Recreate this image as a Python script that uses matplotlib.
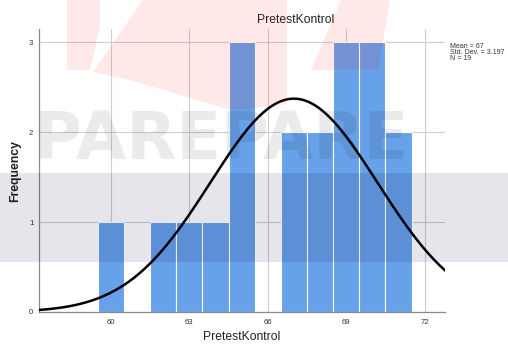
import numpy as np
import matplotlib
matplotlib.use("Agg")
import matplotlib.pyplot as plt
from matplotlib.patches import Polygon, Rectangle

plt.rcParams['font.family'] = ['Liberation Sans', 'DejaVu Sans']

# histogram data
scores = [60, 62, 63, 64, 65, 67, 68, 69, 70, 71]
freq = [1, 1, 1, 1, 3, 2, 2, 3, 3, 2]
xticks = [60, 63, 66, 69, 72]
yticks = [0, 1, 2, 3]
mean_val = 67
sd_val = 3.197
n_val = 19

W, H = 508, 345
fig = plt.figure(figsize=(W / 100, H / 100), dpi=100)
ax = fig.add_axes([39 / W, 1 - 312 / H, (445 - 39) / W, (312 - 29) / H])

ax.bar(scores, freq, width=1.0, color='#66a1e9', edgecolor='white',
       linewidth=0.8, zorder=2)

xs = np.linspace(57.25, 72.78, 300)
ys = n_val * 1.0 / (sd_val * np.sqrt(2 * np.pi)) * np.exp(-0.5 * ((xs - mean_val) / sd_val) ** 2)
ax.plot(xs, ys, color='black', lw=1.8, zorder=3)

ax.set_xlim(57.25, 72.78)
ax.set_ylim(0, 3.145)
ax.set_xticks(xticks)
ax.set_yticks(yticks)
ax.tick_params(length=0, labelsize=5.6, colors='#333333')
ax.tick_params(axis='x', pad=5)
ax.tick_params(axis='y', pad=4)
ax.grid(True, color='#cfcfcf', lw=0.8, zorder=0)
ax.set_axisbelow(True)
for s in ['top', 'right']:
    ax.spines[s].set_visible(False)
for s in ['left', 'bottom']:
    ax.spines[s].set_color('#8a8a8a')
    ax.spines[s].set_linewidth(0.9)

ax.set_xlabel('PretestKontrol', fontsize=8.7, color='#222222', labelpad=4)
ax.set_ylabel('Frequency', fontsize=8.8, color='#222222', fontweight='bold', labelpad=6)
fig.text(296 / W, 1 - 20 / H, 'PretestKontrol', fontsize=8.7, ha='center', va='center',
         color='#222222')

stats = ['Mean = %d' % mean_val, 'Std. Dev. = %.3f' % sd_val, 'N = %d' % n_val]
for i, t in enumerate(stats):
    fig.text(450 / W, 1 - (46.5 + 5.8 * i) / H, t, fontsize=5.0, ha='left', va='center',
             color='#333333')

# watermark overlay in pixel coordinates
ov = fig.add_axes([0, 0, 1, 1], zorder=5)
ov.set_xlim(0, W)
ov.set_ylim(H, 0)
ov.axis('off')
ov.patch.set_alpha(0)

pinks = [
    [(67, 0), (100, 0), (100, 27), (90, 70), (67, 70)],
    [(143, 0), (287, 0), (287, 104), (255, 108), (230, 110), (180, 95), (130, 80), (93, 72)],
    [(341, 0), (390, 0), (378, 70), (311, 70)],
]
for p in pinks:
    ov.add_patch(Polygon(p, closed=True, facecolor=(1, 0, 0), alpha=0.09, lw=0))
ov.add_patch(Rectangle((0, 173), W, 89, facecolor=(0, 0, 0.25), alpha=0.1, lw=0))
ov.text(221, 141, 'PAREPARE', fontsize=47, fontweight='bold', family='DejaVu Sans',
        ha='center', va='center', color='black', alpha=0.08)

fig.savefig('out.png', dpi=100)
